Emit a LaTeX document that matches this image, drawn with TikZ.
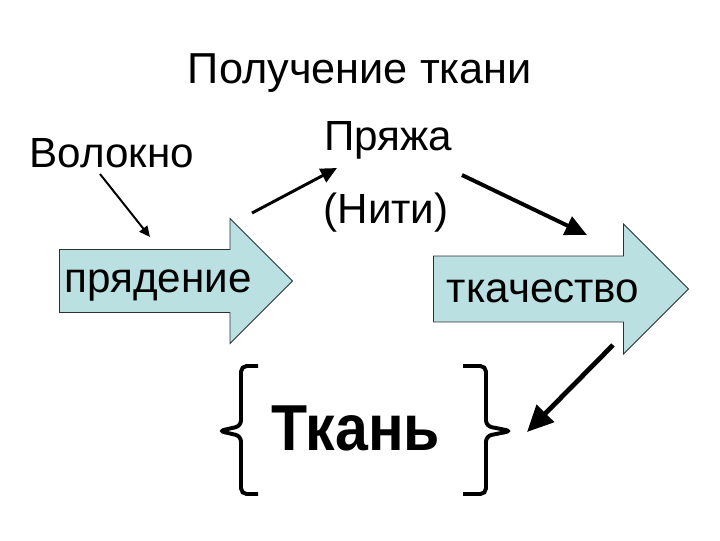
\documentclass[tikz,border=0pt]{standalone}
\usepackage{fontspec}
\setmainfont{Liberation Sans}
\usetikzlibrary{shapes.arrows,arrows.meta}
\definecolor{blockfill}{RGB}{187,224,226}
\definecolor{blockline}{RGB}{40,50,50}
\tikzset{
  txt/.style={inner sep=0pt, anchor=base, font=\fontsize{30}{36}\selectfont},
  blockarrow/.style={single arrow, draw=blockline, fill=blockfill, line width=0.6pt,
    inner xsep=0pt, anchor=tail},
  flow/.style={line cap=butt, -{Triangle[length=#1*5.5pt, width=#1*5pt]}, line width=#1 pt},
  bracket/.style={line width=2.8pt, rounded corners=4pt}
}
\begin{document}
\begin{tikzpicture}[x=0.025cm, y=-0.025cm]
    \useasboundingbox (0,0) rectangle (720,540);
    % title and labels
    \node[txt, font=\fontsize{30.8}{36}\selectfont] (title) at (360,83) {Получение ткани};
    \node[txt] (fibre) at (112,167) {Волокно};
    \node[txt] (yarn) at (388,150) {Пряжа};
    \node[txt] (thread) at (386,223) {(Нити)};
    
    % block arrows
    \node[blockarrow, minimum height=5.825cm, inner ysep=0.775cm, single arrow head extend=0.775cm] (spin) at (59,281) {};
    \node[txt] (spintxt) at (158,292) {прядение};
    \node[blockarrow, minimum height=6.375cm, inner ysep=0.8125cm, single arrow head extend=0.8cm] (weave) at (433,289) {};
    \node[txt] (weavetxt) at (543,302) {ткачество};
    
    % result
    \node[txt, font=\bfseries\fontsize{42}{50}\selectfont] (cloth) at (356,450) {\scalebox{1}[1.1]{Ткань}};
    \draw[bracket] (258,366) -- (241,366) -- (241,426) -- (219,431) -- (241,436) -- (241,494) -- (258,494);
    \draw[bracket] (463,366) -- (486,366) -- (486,426) -- (511,431) -- (486,436) -- (486,494) -- (463,494);
    
    % connectors
    \coordinate (fibreout) at (100,174);
    \coordinate (spinin) at (150,237);
    \coordinate (spinout) at (252,213);
    \coordinate (yarnin) at (337,168);
    \coordinate (yarnout) at (462,175);
    \coordinate (weavein) at (587,235);
    \coordinate (weaveout) at (613,345);
    \coordinate (clothin) at (527,432);
    \draw[flow=1.4] (fibreout) -- (spinin);
    \draw[flow=2.1] (spinout) -- (yarnin);
    \draw[flow=2.8] (yarnout) -- (weavein);
    \draw[flow=3.4] (weaveout) -- (clothin);
\end{tikzpicture}
\end{document}
